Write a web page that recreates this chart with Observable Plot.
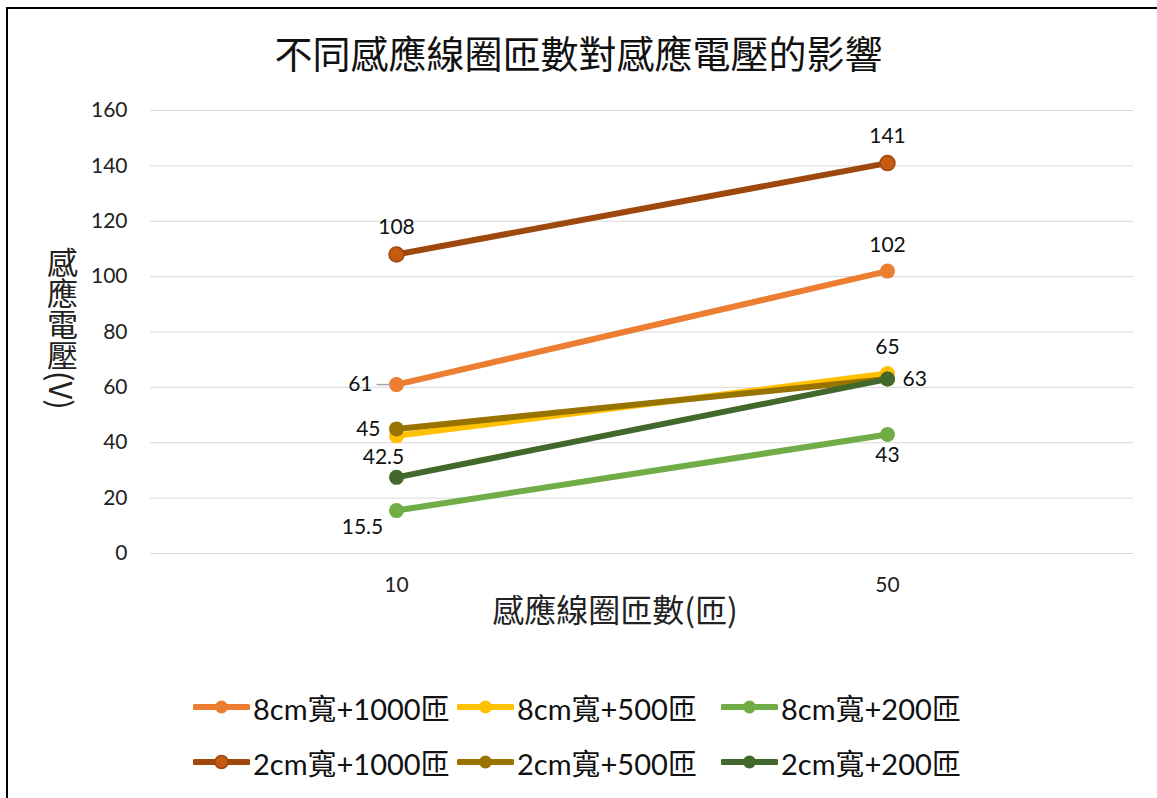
<!DOCTYPE html>
<html>
<head>
<meta charset="utf-8">
<script src="https://cdn.jsdelivr.net/npm/d3@7"></script>
<script src="https://cdn.jsdelivr.net/npm/@observablehq/plot@0.6"></script>
<style>
  body { margin: 0; background: #fff; font-family: Lato, "Noto Sans CJK TC", sans-serif; }
  #wrap { position: relative; width: 1157px; height: 798px; overflow: hidden; background: #fff; }
  #frame { position: absolute; left: 6px; top: 7px; width: 1300px; height: 1000px; border-left: 2px solid #000; border-top: 2px solid #000; }
  #title { position: absolute; left: 0; top: 30px; width: 1157px; text-align: center; font-size: 38px; line-height: 44px; color: #111; font-family: "Noto Sans CJK TC", sans-serif; }
  #chart { position: absolute; left: 0; top: 90px; }
  #ytitle { position: absolute; left: 43px; top: 247px; writing-mode: vertical-rl; font-size: 31px; line-height: 38px; color: #222; font-family: "Noto Sans CJK TC", sans-serif; }
  #legend { position: absolute; left: 193px; top: 679px; display: grid; grid-template-columns: 264px 264px 264px; grid-auto-rows: 55px; }
  .item { display: flex; align-items: center; font-size: 29px; color: #111; white-space: nowrap; }
  .item svg { margin-right: 3px; flex: none; }
</style>
</head>
<body>
<div id="wrap">
  <div id="frame"></div>
  <div id="title"></div>
  <div id="ytitle"></div>
  <div id="chart"></div>
  <div id="legend"></div>
</div>
<script>
const chartTitle = "不同感應線圈匝數對感應電壓的影響";
const xTitle = "感應線圈匝數(匝)";
const yTitle = "感應電壓(V)";
const xCategories = ["10", "50"];
const seriesNames = ["8cm寬+1000匝", "8cm寬+500匝", "8cm寬+200匝", "2cm寬+1000匝", "2cm寬+500匝", "2cm寬+200匝"];
const valuesAt10 = [61, 42.5, 15.5, 108, 45, 27.5];
const valuesAt50 = [102, 65, 43, 141, 63, 63];
const yTicks = [0, 20, 40, 60, 80, 100, 120, 140, 160];
const lineColors = ["#ED7D31", "#FFC000", "#70AD47", "#9E480E", "#997300", "#43682B"];
const markerColors = ["#ED7D31", "#FFC000", "#70AD47", "#C55A11", "#997300", "#43682B"];

document.getElementById("title").textContent = chartTitle;
document.getElementById("ytitle").textContent = yTitle;

const rows = [];
seriesNames.forEach((s, i) => {
  rows.push({series: s, i, x: xCategories[0], y: valuesAt10[i]});
  rows.push({series: s, i, x: xCategories[1], y: valuesAt50[i]});
});

// label placement (style only): [series index, category index] -> offsets
const labelStyle = {
  "0-0": {dx: -24, dy: 0, anchor: "end"},
  "0-1": {dx: 0, dy: -26, anchor: "middle"},
  "1-0": {dx: -13, dy: 21, anchor: "middle"},
  "1-1": {dx: 0, dy: -26, anchor: "middle"},
  "2-0": {dx: -34, dy: 17, anchor: "middle"},
  "2-1": {dx: 0, dy: 21, anchor: "middle"},
  "3-0": {dx: 0, dy: -27, anchor: "middle"},
  "3-1": {dx: 0, dy: -27, anchor: "middle"},
  "4-0": {dx: -16, dy: 0, anchor: "end"},
  "5-1": {dx: 15, dy: 0, anchor: "start"}
};

const marks = [
  Plot.gridY(yTicks, {stroke: "#D9D9D9", strokeOpacity: 1, strokeWidth: 1}),
  Plot.axisY(yTicks, {tickSize: 0, tickPadding: 23, fontSize: 21, label: null, fill: "#222"}),
  Plot.axisX({tickSize: 0, tickPadding: 24, fontSize: 21, label: null, fill: "#222"}),
  Plot.text([xTitle], {frameAnchor: "bottom", dy: 68, dx: -27, text: d => d, fontSize: 32, fill: "#222", fontFamily: "Noto Sans CJK TC"})
];

seriesNames.forEach((s, i) => {
  const d = rows.filter(r => r.i === i);
  marks.push(Plot.line(d, {x: "x", y: "y", stroke: lineColors[i], strokeWidth: 6, strokeLinecap: "round"}));
  marks.push(Plot.dot(d, {x: "x", y: "y", r: 7.5, fill: markerColors[i], stroke: i === 3 ? lineColors[i] : "none", strokeWidth: 1.5}));
});

// leader line for the 61 label
marks.push(Plot.dot(rows.filter(r => r.i === 0 && r.x === xCategories[0]), {
  x: "x", y: "y", dx: -13, r: 7, stroke: "#A6A6A6", strokeWidth: 1.5, fill: "none",
  symbol: {draw(ctx, size) { const r = Math.sqrt(size / Math.PI); ctx.moveTo(-r, 0); ctx.lineTo(r, 0); }}
}));

rows.forEach(r => {
  const key = `${r.i}-${xCategories.indexOf(r.x)}`;
  const st = labelStyle[key];
  if (!st) return;
  marks.push(Plot.text([r], {x: "x", y: "y", text: d => String(d.y), dx: st.dx, dy: st.dy, textAnchor: st.anchor, fontSize: 21, fill: "#111"}));
});

const chart = Plot.plot({
  width: 1157,
  height: 560,
  marginLeft: 150,
  marginRight: 24,
  marginTop: 20,
  marginBottom: 97,
  style: {fontFamily: "Lato, 'Noto Sans CJK TC', sans-serif", fontSize: "21px", background: "transparent", color: "#222"},
  x: {type: "point", domain: xCategories, padding: 0.5, axis: null},
  y: {domain: [0, 160], axis: null},
  marks
});
document.getElementById("chart").appendChild(chart);

const legend = document.getElementById("legend");
seriesNames.forEach((s, i) => {
  const item = document.createElement("div");
  item.className = "item";
  const ns = "http://www.w3.org/2000/svg";
  const sv = document.createElementNS(ns, "svg");
  sv.setAttribute("width", 57); sv.setAttribute("height", 16);
  const ln = document.createElementNS(ns, "line");
  ln.setAttribute("x1", 2); ln.setAttribute("x2", 55); ln.setAttribute("y1", 8); ln.setAttribute("y2", 8);
  ln.setAttribute("stroke", lineColors[i]); ln.setAttribute("stroke-width", 6); ln.setAttribute("stroke-linecap", "round");
  const c = document.createElementNS(ns, "circle");
  c.setAttribute("cx", 28.5); c.setAttribute("cy", 8); c.setAttribute("r", 6.5);
  c.setAttribute("fill", markerColors[i]);
  if (i === 3) { c.setAttribute("stroke", lineColors[i]); c.setAttribute("stroke-width", 1.5); }
  sv.appendChild(ln); sv.appendChild(c);
  const t = document.createElement("span");
  t.textContent = s;
  item.appendChild(sv); item.appendChild(t);
  legend.appendChild(item);
});
</script>
</body>
</html>
